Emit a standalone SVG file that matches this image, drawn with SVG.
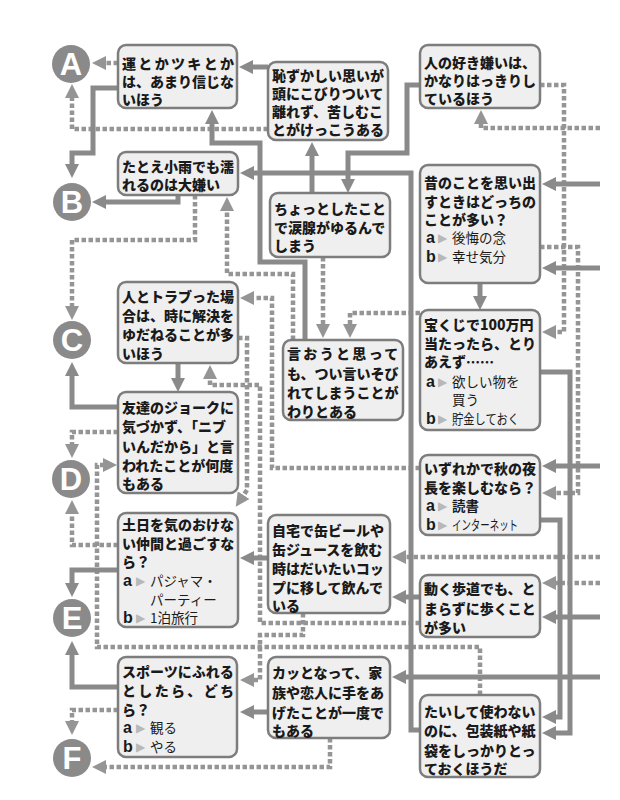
<svg xmlns="http://www.w3.org/2000/svg" width="620" height="800" viewBox="0 0 620 800">
<style>
.box{fill:#efefef;stroke:#7d7d7d;stroke-width:2.5}
.t{font-family:"Noto Sans CJK JP","Noto Sans CJK SC",sans-serif;font-size:14px;font-weight:900;fill:#1a1a1a}
.o{font-family:"Noto Sans CJK JP","Noto Sans CJK SC",sans-serif;font-size:13.5px;font-weight:400}
.ob{font-family:"Noto Sans CJK JP","Noto Sans CJK SC",sans-serif;font-size:13.5px;font-weight:700}
.ab{font-family:"Liberation Sans",Arial,sans-serif;font-size:16px;font-weight:700}
.tri{font-family:"DejaVu Sans",sans-serif;font-size:12px;fill:#b8b8b8}
.sp{letter-spacing:2.33px}
.s{fill:none;stroke:#8a8a8a;stroke-width:5;marker-end:url(#ah)}
.d{fill:none;stroke:#959595;stroke-width:4.5;stroke-dasharray:4.5 2.5;marker-end:url(#ahd)}
.circ{fill:#8a8a8a}
.lt{font-family:"Liberation Sans",Arial,sans-serif;font-size:31px;font-weight:700;fill:#fff;text-anchor:middle}
</style>
<defs>
<marker id="ah" markerUnits="userSpaceOnUse" markerWidth="14" markerHeight="14" viewBox="0 0 14 14" refX="1" refY="7" orient="auto"><path d="M0,0 L14,7 L0,14 z" fill="#8a8a8a"/></marker>
<marker id="ahd" markerUnits="userSpaceOnUse" markerWidth="14" markerHeight="14" viewBox="0 0 14 14" refX="1" refY="7" orient="auto"><path d="M0,0 L14,7 L0,14 z" fill="#959595"/></marker>
</defs>
<rect width="620" height="800" fill="#fff"/>
<g id="connectors">
<path class="d" d="M118,63 H105"/>
<path class="d" d="M268,129 H72 V97"/>
<path class="d" d="M195,195 V240 H72 V307"/>
<path class="d" d="M293,340 V274 H227 V210"/>
<path class="d" d="M323,257 V325"/>
<path class="d" d="M420,313 H350 V325"/>
<path class="d" d="M540,85 H564 V332 H555"/>
<path class="d" d="M600,128 H481 V123"/>
<path class="d" d="M540,247 H578 V493 H555"/>
<path class="d" d="M420,468 H272 V298 H253"/>
<path class="d" d="M238,338 H247 V490 L243,496"/>
<path class="d" d="M420,623 H260 V385 H210 V378"/>
<path class="d" d="M303,613 V635 H260 V680 H253"/>
<path class="d" d="M480,695 V647 H97 V465 H104"/>
<path class="d" d="M118,545 H72 V513"/>
<path class="d" d="M118,432 H72 V445"/>
<path class="d" d="M118,710 H72 V722"/>
<path class="d" d="M330,738 V767 H105"/>
<path class="d" d="M600,557 H405"/>
<path class="d" d="M600,583 H555"/>
<path class="s" d="M118,88 H93 V153 H72 V165"/>
<path class="s" d="M268,67 H252"/>
<path class="s" d="M305,340 V262 H260 V143 H212 V123"/>
<path class="s" d="M312,193 V155"/>
<path class="s" d="M420,85 H407 V153 H348 V180"/>
<path class="s" d="M420,730 H411 V173 H253"/>
<path class="s" d="M178,195 V202 H105"/>
<path class="s" d="M480,283 V297"/>
<path class="s" d="M600,184 H555"/>
<path class="s" d="M600,268 H555"/>
<path class="s" d="M540,372 H570 V733 H555"/>
<path class="s" d="M540,520 H560 V717 H555"/>
<path class="s" d="M600,466 H555"/>
<path class="s" d="M178,363 V379"/>
<path class="s" d="M118,570 H72 V584"/>
<path class="s" d="M118,687 H72 V654"/>
<path class="s" d="M268,712 H253"/>
<path class="s" d="M268,558 H253"/>
<path class="s" d="M118,407 H72 V375"/>
<path class="s" d="M600,617 H555"/>
<path class="s" d="M420,597 H405"/>
<path class="s" d="M600,677 H405"/>
</g>
<g id="A"><circle class="circ" cx="71" cy="64" r="19"/><text class="lt" x="71" y="75">A</text></g>
<g id="B"><circle class="circ" cx="72" cy="202" r="19"/><text class="lt" x="72" y="213">B</text></g>
<g id="C"><circle class="circ" cx="72" cy="340" r="19"/><text class="lt" x="72" y="351">C</text></g>
<g id="D"><circle class="circ" cx="71" cy="479" r="19"/><text class="lt" x="71" y="490">D</text></g>
<g id="E"><circle class="circ" cx="72" cy="618" r="19"/><text class="lt" x="72" y="629">E</text></g>
<g id="F"><circle class="circ" cx="72" cy="758" r="19"/><text class="lt" x="72" y="769">F</text></g>

<g id="n1"><rect class="box" x="118" y="45" width="119" height="63" rx="8"/>
<text class="t"><tspan class="sp" x="122" y="69">運とかツキとか</tspan><tspan x="122" y="87">は、あまり信じな</tspan><tspan x="122" y="105">いほう</tspan></text></g>

<g id="n2"><rect class="box" x="268" y="62" width="120" height="78" rx="8"/>
<text class="t"><tspan x="272" y="80.5">恥ずかしい思いが</tspan><tspan x="272" y="98.5">頭にこびりついて</tspan><tspan x="272" y="116.5">離れず、苦しむこ</tspan><tspan x="272" y="134.5">とがけっこうある</tspan></text></g>

<g id="n3"><rect class="box" x="420" y="45" width="120" height="63" rx="8"/>
<text class="t"><tspan x="424" y="67.5">人の好き嫌いは、</tspan><tspan x="424" y="85.5">かなりはっきりし</tspan><tspan x="424" y="103.5">ているほう</tspan></text></g>

<g id="n4"><rect class="box" x="118" y="152" width="120" height="43" rx="8"/>
<text class="t"><tspan x="122" y="172">たとえ小雨でも濡</tspan><tspan x="122" y="190">れるのは大嫌い</tspan></text></g>

<g id="n5"><rect class="box" x="270" y="193" width="120" height="64" rx="8"/>
<text class="t"><tspan x="274" y="214">ちょっとしたこと</tspan><tspan x="274" y="232.5">で涙腺がゆるんで</tspan><tspan x="274" y="251">しまう</tspan></text></g>

<g id="n6"><rect class="box" x="420" y="165" width="120" height="118" rx="8"/>
<text class="t"><tspan x="424" y="188">昔のことを思い出</tspan><tspan x="424" y="206.5">すときはどっちの</tspan><tspan x="424" y="225">ことが多い？</tspan><tspan class="ab" x="426" y="243">a</tspan><tspan class="tri" x="438" y="242">▶</tspan><tspan class="o" x="452" y="243">後悔の念</tspan><tspan class="ab" x="426" y="261.5">b</tspan><tspan class="tri" x="438" y="260.5">▶</tspan><tspan class="o" x="452" y="261.5">幸せ気分</tspan></text></g>

<g id="n7"><rect class="box" x="118" y="282" width="120" height="81" rx="8"/>
<text class="t"><tspan x="122" y="302">人とトラブった場</tspan><tspan x="122" y="321">合は、時に解決を</tspan><tspan x="122" y="340">ゆだねることが多</tspan><tspan x="122" y="359">いほう</tspan></text></g>

<g id="n8"><rect class="box" x="283" y="340" width="120" height="80" rx="8"/>
<text class="t"><tspan class="sp" x="287" y="359">言おうと思って</tspan><tspan x="287" y="378.5">も、つい言いそび</tspan><tspan x="287" y="398">れてしまうことが</tspan><tspan x="287" y="417">わりとある</tspan></text></g>

<g id="n9"><rect class="box" x="420" y="310" width="120" height="120" rx="8"/>
<text class="t"><tspan x="424" y="330">宝くじで100万円</tspan><tspan x="424" y="349">当たったら、とり</tspan><tspan x="424" y="367">あえず……</tspan><tspan class="ab" x="426" y="387">a</tspan><tspan class="tri" x="438" y="386">▶</tspan><tspan class="o" x="452" y="387">欲しい物を</tspan><tspan class="o" x="452" y="405">買う</tspan><tspan class="ab" x="426" y="424">b</tspan><tspan class="tri" x="438" y="423">▶</tspan><tspan class="o" x="452" y="424" textLength="67" lengthAdjust="spacingAndGlyphs">貯金しておく</tspan></text></g>

<g id="n10"><rect class="box" x="118" y="392" width="120" height="101" rx="8"/>
<text class="t"><tspan x="122" y="413">友達のジョークに</tspan><tspan x="122" y="432">気づかず、「ニブ</tspan><tspan x="122" y="451.5">いんだから」と言</tspan><tspan x="122" y="471">われたことが何度</tspan><tspan x="122" y="489">もある</tspan></text></g>

<g id="n11"><rect class="box" x="420" y="455" width="120" height="80" rx="8"/>
<text class="t"><tspan x="424" y="474">いずれかで秋の夜</tspan><tspan x="424" y="493">長を楽しむなら？</tspan><tspan class="ab" x="426" y="511">a</tspan><tspan class="tri" x="438" y="510">▶</tspan><tspan class="ob" x="452" y="511">読書</tspan><tspan class="ab" x="426" y="530">b</tspan><tspan class="tri" x="438" y="529">▶</tspan><tspan class="o" x="452" y="530" textLength="66" lengthAdjust="spacingAndGlyphs">インターネット</tspan></text></g>

<g id="n12"><rect class="box" x="118" y="513" width="120" height="114" rx="8"/>
<text class="t"><tspan x="122" y="530">土日を気のおけな</tspan><tspan x="122" y="548.5">い仲間と過ごすな</tspan><tspan x="122" y="567">ら？</tspan><tspan class="ab" x="123" y="586">a</tspan><tspan class="tri" x="136" y="585">▶</tspan><tspan class="o" x="150" y="586">パジャマ・</tspan><tspan class="o" x="150" y="604.5">パーティー</tspan><tspan class="ab" x="123" y="623">b</tspan><tspan class="tri" x="136" y="622">▶</tspan><tspan class="o" x="150" y="623">1泊旅行</tspan></text></g>

<g id="n13"><rect class="box" x="268" y="515" width="122" height="98" rx="8"/>
<text class="t"><tspan x="272" y="536">自宅で缶ビールや</tspan><tspan x="272" y="555">缶ジュースを飲む</tspan><tspan x="272" y="574">時はだいたいコッ</tspan><tspan x="272" y="593">プに移して飲んで</tspan><tspan x="272" y="611">いる</tspan></text></g>

<g id="n14"><rect class="box" x="420" y="575" width="120" height="62" rx="8"/>
<text class="t"><tspan x="424" y="594">動く歩道でも、と</tspan><tspan x="424" y="613.5">まらずに歩くこと</tspan><tspan x="424" y="632.5">が多い</tspan></text></g>

<g id="n15"><rect class="box" x="118" y="657" width="119" height="100" rx="8"/>
<text class="t"><tspan x="122" y="677">スポーツにふれる</tspan><tspan class="sp" x="122" y="696">としたら、どち</tspan><tspan x="122" y="714.5">ら？</tspan><tspan class="ab" x="123" y="733">a</tspan><tspan class="tri" x="136" y="732">▶</tspan><tspan class="o" x="150" y="733">観る</tspan><tspan class="ab" x="123" y="752">b</tspan><tspan class="tri" x="136" y="751">▶</tspan><tspan class="o" x="150" y="752">やる</tspan></text></g>

<g id="n16"><rect class="box" x="268" y="657" width="122" height="81" rx="8"/>
<text class="t"><tspan x="272" y="678">カッとなって、家</tspan><tspan x="272" y="698">族や恋人に手をあ</tspan><tspan x="272" y="717.5">げたことが一度で</tspan><tspan x="272" y="736">もある</tspan></text></g>

<g id="n17"><rect class="box" x="420" y="695" width="120" height="82" rx="8"/>
<text class="t"><tspan x="424" y="717">たいして使わない</tspan><tspan x="424" y="736">のに、包装紙や紙</tspan><tspan x="424" y="755.5">袋をしっかりとっ</tspan><tspan x="424" y="774">ておくほうだ</tspan></text></g>
</svg>
